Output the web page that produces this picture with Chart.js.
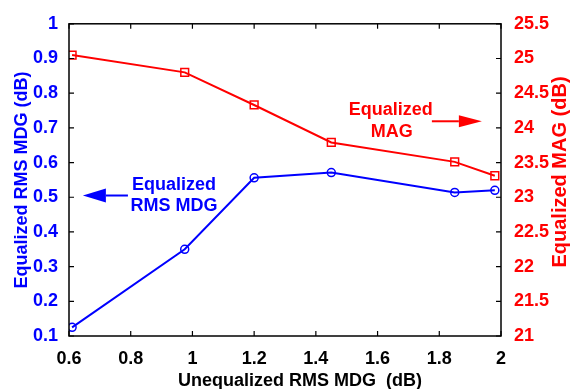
<!DOCTYPE html>
<html>
<head>
<meta charset="utf-8">
<script src="https://cdn.jsdelivr.net/npm/chart.js@4.4.0/dist/chart.umd.min.js"></script>
<style>
  body { margin: 0; background: #fff; }
  #wrap { width: 571px; height: 389px; }
</style>
</head>
<body>
<div id="wrap"><canvas id="mdg-chart"></canvas></div>
<script>
// values
const unequalizedMdg = [0.61, 0.975, 1.2, 1.45, 1.85, 1.98];
const equalizedMdg = [0.125, 0.35, 0.556, 0.571, 0.514, 0.52];
const equalizedMag = [25.05, 24.80, 24.33, 23.79, 23.51, 23.31];

const xTicks = [0.6, 0.8, 1, 1.2, 1.4, 1.6, 1.8, 2];
const mdgTicks = [0.1, 0.2, 0.3, 0.4, 0.5, 0.6, 0.7, 0.8, 0.9, 1];
const magTicks = [21, 21.5, 22, 22.5, 23, 23.5, 24, 24.5, 25, 25.5];

const FONT = "'Liberation Sans', Arial, sans-serif";
const BLUE = '#0000ff';
const RED = '#ff0000';

function toPoints(xs, ys) {
  return xs.map((x, i) => ({ x: x, y: ys[i] }));
}

function fmt(v) {
  return String(Math.round(v * 100) / 100);
}

function useTicks(list) {
  return function (scale) {
    scale.ticks = list.map(v => ({ value: v }));
  };
}

function arrow(ctx, x1, y1, x2, y2, head, half, color) {
  const dir = Math.sign(x2 - x1);
  ctx.strokeStyle = color;
  ctx.fillStyle = color;
  ctx.lineWidth = 2;
  ctx.beginPath();
  ctx.moveTo(x1, y1);
  ctx.lineTo(x2 - dir * head, y2);
  ctx.stroke();
  ctx.beginPath();
  ctx.moveTo(x2, y2);
  ctx.lineTo(x2 - dir * head, y2 - half);
  ctx.lineTo(x2 - dir * head, y2 + half);
  ctx.closePath();
  ctx.fill();
}

// frame, inward ticks, right title, arrows + labels
const decorations = {
  id: 'decorations',
  afterDraw(chart) {
    const ctx = chart.ctx;
    const area = chart.chartArea;
    const x = chart.scales.x;
    const yl = chart.scales.yMdg;
    const yr = chart.scales.yMag;
    const tl = 5;

    ctx.save();
    ctx.strokeStyle = '#000';
    ctx.lineWidth = 1.5;
    ctx.strokeRect(area.left, area.top, area.right - area.left, area.bottom - area.top);

    ctx.lineWidth = 1.2;
    ctx.beginPath();
    x.ticks.forEach(t => {
      const px = x.getPixelForValue(t.value);
      ctx.moveTo(px, area.bottom); ctx.lineTo(px, area.bottom - tl);
      ctx.moveTo(px, area.top); ctx.lineTo(px, area.top + tl);
    });
    yl.ticks.forEach(t => {
      const py = yl.getPixelForValue(t.value);
      ctx.moveTo(area.left, py); ctx.lineTo(area.left + tl, py);
    });
    yr.ticks.forEach(t => {
      const py = yr.getPixelForValue(t.value);
      ctx.moveTo(area.right, py); ctx.lineTo(area.right - tl, py);
    });
    ctx.stroke();

    // x title
    ctx.fillStyle = '#000';
    ctx.font = 'bold 18px ' + FONT;
    ctx.textAlign = 'center';
    ctx.textBaseline = 'middle';
    ctx.fillText('Unequalized RMS MDG  (dB)', 300, 381);

    // right title, reads bottom to top
    ctx.save();
    ctx.translate(560, 172);
    ctx.rotate(-Math.PI / 2);
    ctx.fillStyle = RED;
    ctx.font = 'bold 20px ' + FONT;
    ctx.fillText('Equalized MAG (dB)', 0, 0);
    ctx.restore();

    // annotations
    ctx.fillStyle = RED;
    ctx.fillText('Equalized', x.getPixelForValue(1.643), yl.getPixelForValue(0.752));
    ctx.fillText('MAG', x.getPixelForValue(1.646), yl.getPixelForValue(0.687));
    arrow(ctx, x.getPixelForValue(1.776), yl.getPixelForValue(0.719),
      x.getPixelForValue(1.938), yl.getPixelForValue(0.719), 23, 6, RED);

    ctx.fillStyle = BLUE;
    ctx.fillText('Equalized', x.getPixelForValue(0.94), yl.getPixelForValue(0.534));
    ctx.fillText('RMS MDG', x.getPixelForValue(0.94), yl.getPixelForValue(0.474));
    arrow(ctx, x.getPixelForValue(0.791), yl.getPixelForValue(0.505),
      x.getPixelForValue(0.645), yl.getPixelForValue(0.505), 23, 7, BLUE);
    ctx.restore();
  }
};

const tickFont = { family: FONT, size: 18, weight: 'bold' };

const chart = new Chart(document.getElementById('mdg-chart'), {
  type: 'line',
  data: {
    datasets: [{
      label: 'Equalized MAG',
      data: toPoints(unequalizedMdg, equalizedMag),
      yAxisID: 'yMag',
      borderColor: RED,
      borderWidth: 2,
      pointStyle: 'rect',
      pointRadius: 5.5,
      pointBorderWidth: 1.5,
      pointBorderColor: RED,
      pointBackgroundColor: 'rgba(0,0,0,0)',
      tension: 0
    }, {
      label: 'Equalized RMS MDG',
      data: toPoints(unequalizedMdg, equalizedMdg),
      yAxisID: 'yMdg',
      borderColor: BLUE,
      borderWidth: 2,
      pointStyle: 'circle',
      pointRadius: 4,
      pointBorderWidth: 1.5,
      pointBorderColor: BLUE,
      pointBackgroundColor: 'rgba(0,0,0,0)',
      tension: 0
    }]
  },
  options: {
    responsive: true,
    maintainAspectRatio: false,
    animation: false,
    layout: { padding: { top: 18, left: 0, right: 0, bottom: 0 } },
    plugins: { legend: { display: false }, tooltip: { enabled: false } },
    scales: {
      x: {
        type: 'linear',
        position: 'bottom',
        min: 0.6,
        max: 2,
        afterBuildTicks: useTicks(xTicks),
        afterFit: s => { s.height = 53; },
        grid: { display: false, drawTicks: false },
        border: { display: false },
        ticks: { color: '#000', padding: 12, maxRotation: 0, font: tickFont, callback: fmt }
      },
      yMdg: {
        type: 'linear',
        position: 'left',
        min: 0.1,
        max: 1,
        afterBuildTicks: useTicks(mdgTicks),
        afterFit: s => { s.width = 69; },
        grid: { display: false, drawTicks: false },
        border: { display: false },
        ticks: { color: BLUE, padding: 11, font: tickFont, callback: fmt },
        title: {
          display: true,
          text: 'Equalized RMS MDG (dB)',
          color: BLUE,
          padding: { top: 11, bottom: 0 },
          font: { family: FONT, size: 18, weight: 'bold' }
        }
      },
      yMag: {
        type: 'linear',
        position: 'right',
        min: 21,
        max: 25.5,
        afterBuildTicks: useTicks(magTicks),
        afterFit: s => { s.width = 70; },
        grid: { display: false, drawTicks: false },
        border: { display: false },
        ticks: { color: RED, padding: 13, font: tickFont, callback: fmt }
      }
    }
  },
  plugins: [decorations]
});
</script>
</body>
</html>
